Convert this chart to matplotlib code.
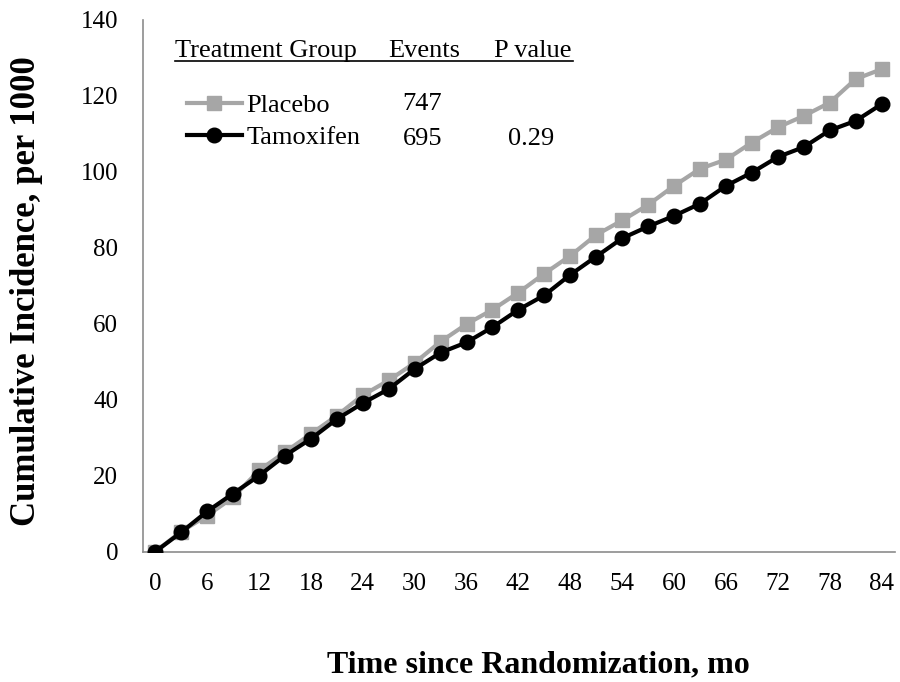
import matplotlib
matplotlib.use("Agg")
import matplotlib.pyplot as plt
from matplotlib.lines import Line2D

months = list(range(0, 85, 3))
placebo = [0, 5.3, 9.5, 14.3, 21.4, 26.2, 31.0, 35.8, 41.2, 45.1, 49.7, 55.3, 59.9, 63.7,
           68.2, 73.2, 77.9, 83.4, 87.2, 91.3, 96.3, 100.8, 103.2, 107.7, 111.7, 114.7,
           118.2, 124.4, 127.0]
tamoxifen = [0, 5.1, 10.6, 15.3, 20.0, 25.3, 29.7, 34.9, 39.1, 42.8, 48.1, 52.4, 55.1, 59.1,
             63.7, 67.5, 72.9, 77.7, 82.5, 85.6, 88.4, 91.6, 96.3, 99.8, 103.9, 106.5,
             110.9, 113.4, 117.8]
xticks = list(range(0, 85, 6))
yticks = list(range(0, 141, 20))
groups = ["Placebo", "Tamoxifen"]
events = ["747", "695"]
pvalues = ["", "0.29"]

plt.rcParams['font.family'] = ['Liberation Serif', 'DejaVu Serif']

fig = plt.figure(figsize=(9, 6.82), dpi=100)
ax = fig.add_axes([0.159, 0.191, 0.836, 0.780])

gray = '#A6A6A6'
lp, = ax.plot(months, placebo, color=gray, lw=3, marker='s', ms=10, mec=gray, mfc=gray,
              label=groups[0], zorder=2)
lt, = ax.plot(months, tamoxifen, color='black', lw=3, marker='o', ms=10.5, mec='black',
              mfc='black', label=groups[1], zorder=3)

ax.set_xlim(-1.4, 85.6)
ax.set_ylim(0, 140)
ax.set_xticks(xticks)
ax.set_yticks(yticks)
ax.tick_params(axis='both', length=0, labelsize=18, colors='black')
ax.tick_params(axis='x', pad=15)
ax.tick_params(axis='y', pad=18)
for s in ['top', 'right']:
    ax.spines[s].set_visible(False)
for s in ['left', 'bottom']:
    ax.spines[s].set_color('#8C8C8C')
    ax.spines[s].set_linewidth(1.2)
ax.spines['left'].set_zorder(1)

ax.set_xlabel("Time since Randomization, mo", fontsize=23, fontweight='bold')
ax.xaxis.set_label_coords(0.525, -0.186)
ax.set_ylabel("Cumulative Incidence, per 1000", fontsize=25, fontweight='bold')
ax.yaxis.set_label_coords(-0.133, 0.489)

fs = 19
leg = ax.legend(handles=[lp, lt], loc='upper left', bbox_to_anchor=(0.044, 0.881),
                frameon=False, fontsize=fs, handlelength=2.1, handletextpad=0.15,
                labelspacing=0.33, borderaxespad=0, markerscale=1.0)

# header
hy = 0.930
ax.text(0.0425, hy, "Treatment Group", transform=ax.transAxes, fontsize=fs, va='baseline')
ax.text(0.326, hy, "Events", transform=ax.transAxes, fontsize=fs, va='baseline')
ax.text(0.466, hy, "P value", transform=ax.transAxes, fontsize=fs, va='baseline')
ax.add_line(Line2D([0.043, 0.571], [0.922, 0.922], transform=ax.transAxes,
                   color='black', lw=1.2))
rows_y = [0.830, 0.765]
for ry, ev, pv in zip(rows_y, events, pvalues):
    ax.text(0.345, ry, ev, transform=ax.transAxes, fontsize=fs, va='baseline')
    if pv:
        ax.text(0.485, ry, pv, transform=ax.transAxes, fontsize=fs, va='baseline')

fig.savefig("out.png", dpi=100)
